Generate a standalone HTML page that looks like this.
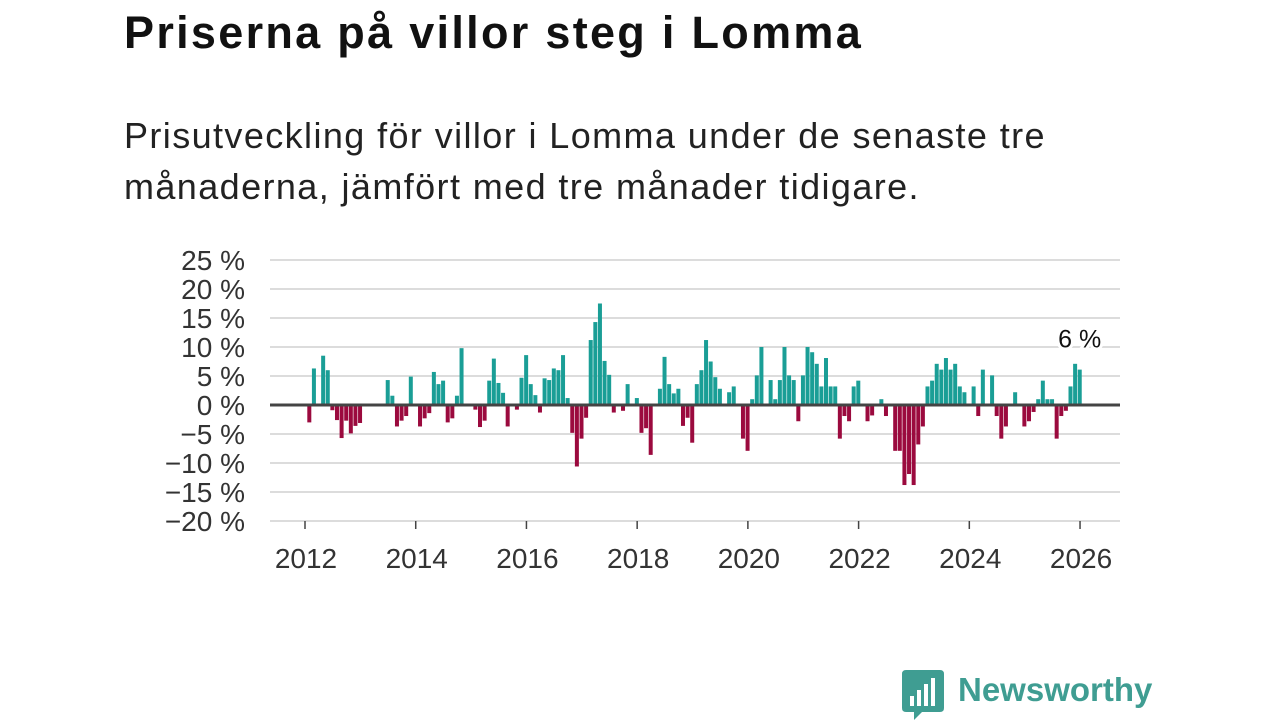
<!DOCTYPE html>
<html><head><meta charset="utf-8">
<style>
body{margin:0;width:1280px;height:720px;background:#fff;overflow:hidden;font-family:"Liberation Sans",sans-serif;color:#111;position:relative}
#title{position:absolute;left:124px;top:7px;font-size:45px;font-weight:bold;margin:0;letter-spacing:2.3px}
#sub{position:absolute;left:124px;top:110px;font-size:36px;line-height:51px;margin:0;color:#222;width:1000px;letter-spacing:1.4px}
#logo{position:absolute;left:902px;top:670px}
#brand{position:absolute;left:958px;top:671px;font-size:33px;font-weight:bold;color:#3f9d92}
</style></head><body>
<h1 id="title">Priserna på villor steg i Lomma</h1>
<p id="sub">Prisutveckling för villor i Lomma under de senaste tre månaderna, jämfört med tre månader tidigare.</p>
<svg id="chart" width="1280" height="720" style="position:absolute;left:0;top:0"></svg>
<svg id="logo" width="42" height="50" viewBox="0 0 42 50">
<path d="M4 0H38Q42 0 42 4V38Q42 42 38 42H20L12 50V42H4Q0 42 0 38V4Q0 0 4 0Z" fill="#3f9d92"/>
<rect x="8" y="26" width="4" height="10" fill="#fff"/><rect x="15" y="20" width="4" height="16" fill="#fff"/><rect x="22" y="14" width="4" height="22" fill="#fff"/><rect x="29" y="8" width="4" height="28" fill="#fff"/>
</svg>
<div id="brand">Newsworthy</div>
<script>
const startYear = 2012;
const values = [-3,6.3,0,8.5,6,-0.9,-2.6,-5.7,-2.7,-4.9,-3.6,-3.1,
0,0,0,0,0,4.3,1.6,-3.7,-2.7,-1.9,4.9,0,
-3.7,-2.3,-1.4,5.7,3.6,4.2,-3.0,-2.3,1.6,9.8,0,0,
-0.8,-3.8,-2.7,4.2,8.0,3.8,2.1,-3.7,0,-0.8,4.7,8.6,
3.6,1.7,-1.3,4.6,4.3,6.3,6.0,8.6,1.2,-4.8,-10.6,-5.8,
-2.2,11.2,14.3,17.5,7.6,5.2,-1.3,0,-1.0,3.6,0,1.2,
-4.8,-4.0,-8.6,0,2.8,8.3,3.6,2.0,2.8,-3.6,-2.2,-6.5,
3.6,6.0,11.2,7.5,4.8,2.8,0,2.2,3.2,0,-5.8,-7.9,
1.0,5.1,10.0,0,4.3,1.0,4.3,10.0,5.1,4.3,-2.8,5.1,
10.0,9.1,7.1,3.2,8.1,3.2,3.2,-5.8,-1.9,-2.8,3.2,4.2,
0,-2.8,-1.8,0,1.0,-1.9,0,-7.9,-7.9,-13.8,-11.9,-13.8,
-6.8,-3.7,3.2,4.2,7.1,6.1,8.1,6.1,7.1,3.2,2.2,0,
3.2,-1.9,6.1,0,5.1,-1.9,-5.8,-3.7,0,2.2,0,-3.7,
-2.8,-1.2,1.0,4.2,1.0,1.0,-5.8,-1.9,-1.0,3.2,7.1,6.1];
const yTicks = [25,20,15,10,5,0,-5,-10,-15,-20];
const yTickLabels = ["25 %","20 %","15 %","10 %","5 %","0 %","−5 %","−10 %","−15 %","−20 %"];
const xTicks = [2012,2014,2016,2018,2020,2022,2024,2026];
const lastLabel = "6 %";

const NS="http://www.w3.org/2000/svg";
const svg=document.getElementById('chart');
const y=v=>405-v*5.8;
const xYear=t=>307+(t-startYear)*55.36;
function mk(tag,attrs,parent){const e=document.createElementNS(NS,tag);for(const k in attrs)e.setAttribute(k,attrs[k]);(parent||svg).appendChild(e);return e;}
yTicks.forEach((v,i)=>{
  if(v!==0){const g=mk('line',{x1:270,x2:1120,y1:y(v),y2:y(v),stroke:'#dcdcdc','stroke-width':2});
  
  }
  const t=mk('text',{x:245,y:y(v)+10,'text-anchor':'end','font-size':28,fill:'#333','font-family':'Liberation Sans, sans-serif'});
  t.textContent=yTickLabels[i];
  
  
});
values.forEach((v,m)=>{
  if(v===0)return;
  const cx=xYear(startYear+(m+0.5)/12);
  const r=mk('rect',{x:cx-2,y:Math.min(y(v),405),width:4,height:Math.abs(y(v)-405),fill:v>0?'#1a9e96':'#9b0a3e'});
  
  
});
const z=mk('line',{x1:270,x2:1120,y1:405,y2:405,stroke:'#444','stroke-width':3});


xTicks.forEach(yr=>{
  const tk=mk('line',{x1:xYear(yr)-2,x2:xYear(yr)-2,y1:521,y2:529,stroke:'#444','stroke-width':1.5});
  
  
  const t=mk('text',{x:xYear(yr)-1,y:568,'text-anchor':'middle','font-size':28,fill:'#333','font-family':'Liberation Sans, sans-serif'});
  t.textContent=yr;
  
  
});
const lm=values.length-1;
const lab=mk('text',{x:xYear(startYear+(lm+0.5)/12),y:y(values[lm])-22,'text-anchor':'middle','font-size':25,fill:'#111',stroke:'#fff','stroke-width':6,'paint-order':'stroke','font-family':'Liberation Sans, sans-serif'});
lab.textContent=lastLabel;


</script>
</body></html>
